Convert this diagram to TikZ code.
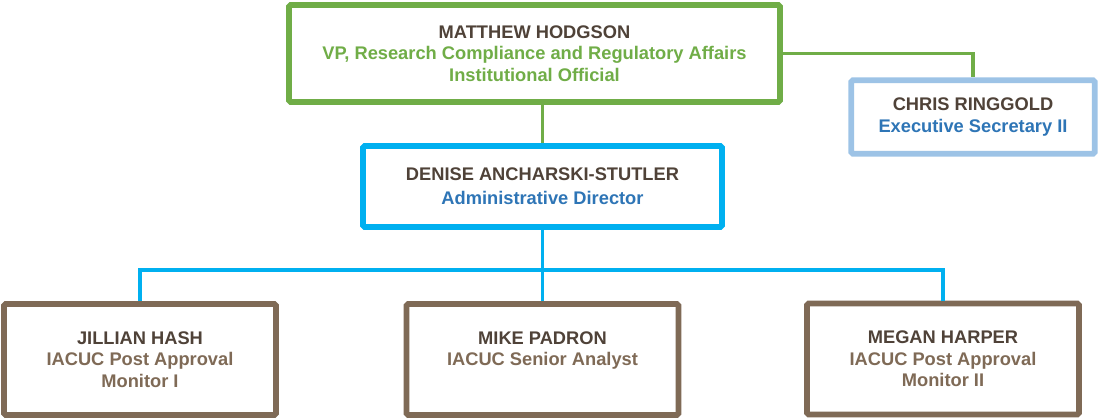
\documentclass[tikz,border=0pt]{standalone}
\usepackage{fontspec}
\setmainfont{Liberation Sans}
\definecolor{boxgreen}{HTML}{70AD47}
\definecolor{boxcyan}{HTML}{00B0F0}
\definecolor{boxsky}{HTML}{9DC3E6}
\definecolor{boxbrown}{HTML}{7F6A56}
\definecolor{namebrown}{HTML}{4F4238}
\definecolor{titleblue}{HTML}{2E75B6}
\begin{document}
\begin{tikzpicture}[x=.2mm,y=-.2mm]
		  \tikzstyle{every node}=[font=\bfseries\fontsize{10.4}{12.2}\selectfont,align=center]
		  \tikzstyle{box}=[draw,line width=3.4pt,fill=white,rounded corners=1pt]
		  \tikzstyle{wire}=[line width=1.8pt]
		  \useasboundingbox (0,0) rectangle (1099,419);
		  \node[box,draw=boxgreen,minimum width=98.2mm,minimum height=19.4mm] (hodgson) at (534.5,53.5)
		    {\textcolor{namebrown}{MATTHEW HODGSON}\\\textcolor{boxgreen}{VP, Research Compliance and Regulatory Affairs}\\\textcolor{boxgreen}{Institutional Official}};
		  \node[box,draw=boxsky,minimum width=48.7mm,minimum height=14.7mm] (ringgold) at (973,117)
		    {\textcolor{namebrown}{CHRIS RINGGOLD}\\\textcolor{titleblue}{Executive Secretary II}};
		  \node[box,draw=boxcyan,minimum width=71.8mm,minimum height=16.2mm,font=\bfseries\fontsize{10.4}{13.6}\selectfont] (ancharski) at (542.5,186.5)
		    {\textcolor{namebrown}{DENISE ANCHARSKI-STUTLER}\\\textcolor{titleblue}{Administrative Director}};
		  \node[box,draw=boxbrown,minimum width=54.4mm,minimum height=22.2mm] (hash) at (140,359.5)
		    {\textcolor{namebrown}{JILLIAN HASH}\\\textcolor{boxbrown}{IACUC Post Approval}\\\textcolor{boxbrown}{Monitor I}};
		  \node[box,draw=boxbrown,minimum width=54.4mm,minimum height=22.2mm] (padron) at (542.5,359.5)
		    {\textcolor{namebrown}{MIKE PADRON}\\\textcolor{boxbrown}{IACUC Senior Analyst}\\\mbox{}};
		  \node[box,draw=boxbrown,minimum width=54.4mm,minimum height=22.2mm] (harper) at (943,359)
		    {\textcolor{namebrown}{MEGAN HARPER}\\\textcolor{boxbrown}{IACUC Post Approval}\\\textcolor{boxbrown}{Monitor II}};
		  \coordinate (bus) at (542.5,270);
		  % green links from the top box
		  \draw[wire,boxgreen](hodgson.east)-|(ringgold.north);
		  \draw[wire,boxgreen](ancharski.north)--(ancharski.north|-hodgson.south);
		  % cyan links down to the staff
		  \draw[wire,boxcyan](ancharski.south)--(bus);
		  \draw[wire,boxcyan](hash.north)|-(bus)-|(harper.north);
		  \draw[wire,boxcyan](bus)--(padron.north);
		\end{tikzpicture}
\end{document}
